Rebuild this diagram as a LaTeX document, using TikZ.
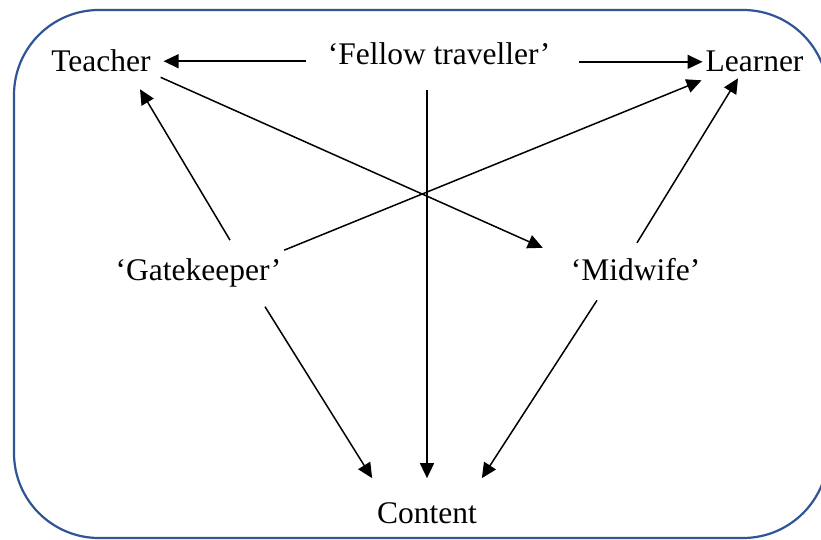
\documentclass[tikz,border=0pt]{standalone}
\usepackage{fontspec}
\setmainfont{Liberation Serif}
\usetikzlibrary{arrows.meta,calc}
\definecolor{framecol}{HTML}{2F5597}
\tikzset{
  lbl/.style={inner sep=0pt, outer sep=0pt, anchor=base, font=\fontsize{31.5}{38}\selectfont},
  arr/.style={line width=1.5pt, -{Triangle[length=15pt,width=14pt]}},
  frame/.style={draw=framecol, line width=2.2pt, rounded corners=85pt}
}
\begin{document}
\begin{tikzpicture}[x=1pt,y=-1pt]
\clip (0,0) rectangle (821,540);
\fill[white] (0,0) rectangle (821,540);
\draw[frame] (14,10) rectangle (828,538);
\node[lbl] (teacher) at (101,72) {Teacher};
\node[lbl] (fellow) at (439,65) {‘Fellow traveller’};
\node[lbl] (learner) at (754.5,72) {Learner};
\node[lbl] (gate) at (198.5,280) {‘Gatekeeper’};
\node[lbl] (midwife) at (635.5,280) {‘Midwife’};
\node[lbl] (content) at (427,523) {Content};
% fellow traveller to teacher and learner
\draw[arr] ($(fellow.west|-teacher.center)+(-22,0)$) -- ($(teacher.east)+(13,0)$);
\draw[arr] ($(fellow.east|-learner.center)+(29,0)$) -- ($(learner.west)+(-3,0)$);
% crossing diagonals
\draw[arr] ($(teacher.south east)+(10,5)$) -- ($(midwife.north west)+(-28,-10)$);
\draw[arr] ($(gate.north east)+(3,-8)$) -- ($(learner.south west)+(-4,8)$);
% gatekeeper and midwife upwards
\draw[arr] ($(gate.north)+(31.5,-18)$) -- ($(teacher.south)+(39,17)$);
\draw[arr] ($(midwife.north)+(1.5,-15)$) -- ($(learner.south)+(-16.5,6)$);
% to content
\draw[arr] ($(gate.south)+(66.5,20)$) -- ($(content.north west)+(-5,-24)$);
\draw[arr] ($(fellow.south-|content.north)+(0,25)$) -- ($(content.north)+(0,-24)$);
\draw[arr] ($(midwife.south)+(-38.5,20)$) -- ($(content.north east)+(5,-24)$);
\end{tikzpicture}
\end{document}
